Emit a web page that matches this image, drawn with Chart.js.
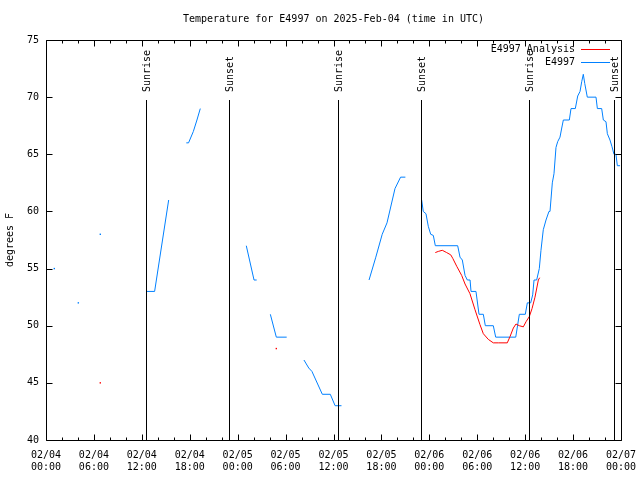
<!DOCTYPE html>
<html>
<head>
<meta charset="utf-8">
<script src="https://cdn.jsdelivr.net/npm/chart.js@4/dist/chart.umd.min.js"></script>
<style>
  body { margin: 0; background: #fff; }
  canvas { display: block; }
</style>
</head>
<body>
<canvas id="chart" width="640" height="480"></canvas>
<script>
// hours since 02/04 00:00 UTC, null breaks the line (gaps in the record)
const obsHours = [1.04, null, 4.05, null, 6.8, null,
  12.56, 13.6, 15.36, null,
  17.57, 17.85, 18.45, 18.9, 19.32, null,
  25.08, 26.05, 26.38, null,
  28.09, 28.84, 30.14, null,
  32.3, 32.9, 33.3, 34.6, 35.6, 36.2, 37.0, null,
  40.45, 41.3, 42.1, 42.7, 43.7, 44.4, 45.0, null,
  47.04, 47.24, 47.58, 47.87, 48.17, 48.5, 48.75, 51.55, 51.84, 52.13, 52.47, 52.76, 53.1, 53.22, 53.84,
  54.22, 54.76, 55.01, 56.01, 56.31, 58.82, 59.27, 60.02, 60.27, 60.69, 60.94, 61.11, 61.44, 61.77,
  61.98, 62.27, 62.61, 62.98, 63.11, 63.4, 63.61, 63.86, 64.07, 64.36, 64.58, 64.78, 65.53, 65.74,
  66.28, 66.58, 66.87, 67.08, 67.28, 67.46, 67.78, 68.87, 69.04, 69.58, 69.79, 70.12, 70.29, 70.62,
  70.87, 71.12, 71.37, 71.54, 71.88];
const obsTemps = [55, null, 52, null, 58, null,
  53, 53, 61, null,
  66, 66, 67, 68, 69, null,
  57, 54, 54, null,
  51, 49, 49, null,
  47, 46.3, 46, 44, 44, 43, 43, null,
  54, 56, 58, 59, 62, 63, 63, null,
  61, 60, 59.8, 58.7, 58, 57.9, 57, 57, 56, 55.75, 54.4, 54, 54, 53, 53,
  51, 51, 50, 50, 49, 49, 51, 51, 52, 52, 52.7, 54, 54, 55,
  56.6, 58.4, 59.25, 60, 60, 62.5, 63.3, 65.6, 66.1, 66.5, 67.3, 68, 68, 69,
  69, 70.1, 70.5, 71.35, 72, 71.2, 70, 70, 69, 69, 68, 67.85, 66.8, 66.25,
  65.67, 65, 65, 64, 64];

const analysisHours = [6.8, null, 28.84, null,
  48.75, 49.12, 49.62, 50.17, 50.68, 50.93, 51.43, 52.05, 52.47, 53.09, 53.72, 54.34, 54.76,
  55.39, 56.01, 56.64, 57.76, 58.1, 58.52, 58.85, 59.27, 59.77, 60.11, 60.52, 60.86, 61.23,
  61.65, 61.82];
const analysisTemps = [45, null, 48, null,
  56.4, 56.5, 56.6, 56.4, 56.2, 55.9, 55.2, 54.4, 53.65, 52.8, 51.4, 50.1, 49.3,
  48.8, 48.5, 48.5, 48.5, 49.04, 49.8, 50.15, 50.0, 49.9, 50.35, 50.8, 51.5, 52.5,
  54.0, 54.2];

const sunriseHours = [12.56, 36.6, 60.52];
const sunsetHours = [22.95, 46.99, 71.1];

const xTicks = [0, 6, 12, 18, 24, 30, 36, 42, 48, 54, 60, 66, 72];
const yTicks = [40, 45, 50, 55, 60, 65, 70, 75];

const FONT = "'DejaVu Sans Mono', 'Liberation Mono', monospace";
const BLUE = "#0080ff";
const RED = "#ff0000";

// build {x,y} points, a null hour keeps the x of the previous point
const toPoints = (hours, temps) => {
  let last = 0;
  return hours.map((h, i) => {
    if (h === null) return { x: last, y: null };
    last = h;
    return { x: h, y: temps[i] };
  });
};

// a lone reading has no neighbour to join, show it as a dot
const loneDot = (ctx) => {
  const d = ctx.dataset.data;
  const i = ctx.dataIndex;
  if (!d[i] || d[i].y === null) return 0;
  const prevGap = i === 0 || d[i - 1].y === null;
  const nextGap = i === d.length - 1 || d[i + 1].y === null;
  return prevGap && nextGap ? 1 : 0;
};

const label = (v) => {
  const day = 4 + Math.floor(v / 24);
  const hh = v % 24;
  return ["02/0" + day, (hh < 10 ? "0" : "") + hh + ":00"];
};

// frame, inward ticks, sun lines, legend and titles (gnuplot look)
const gnuplotDeco = {
  id: "gnuplotDeco",
  afterDraw(chart) {
    const c = chart.ctx;
    const xs = chart.scales.x;
    const ys = chart.scales.y;
    const a = chart.chartArea;
    const L = Math.round(a.left) + 0.5, R = Math.round(a.right) + 0.5;
    const T = Math.round(a.top) + 0.5, B = Math.round(a.bottom) + 0.5;
    c.save();
    c.strokeStyle = "#000";
    c.lineWidth = 1;
    c.beginPath();
    c.rect(L, T, R - L, B - T);
    for (let h = 0; h <= 72; h += 2) {
      const px = Math.round(xs.getPixelForValue(h)) + 0.5;
      const len = h % 6 === 0 ? 6 : 3;
      c.moveTo(px, B); c.lineTo(px, B - len);
      c.moveTo(px, T); c.lineTo(px, T + len);
    }
    yTicks.forEach((t) => {
      const py = Math.round(ys.getPixelForValue(t)) + 0.5;
      c.moveTo(L, py); c.lineTo(L + 6, py);
      c.moveTo(R, py); c.lineTo(R - 6, py);
    });
    c.stroke();

    // sunrise / sunset markers up to 85% of the graph height
    c.font = "10px " + FONT;
    c.fillStyle = "#000";
    const lineTop = a.bottom - 0.85 * (a.bottom - a.top);
    const mark = (h, text) => {
      const px = Math.round(xs.getPixelForValue(h)) + 0.5;
      c.beginPath();
      c.moveTo(px, B); c.lineTo(px, Math.round(lineTop));
      c.stroke();
      c.save();
      c.translate(px + 1, Math.round(lineTop) - 8);
      c.rotate(-Math.PI / 2);
      c.textAlign = "left";
      c.textBaseline = "middle";
      c.fillText(text, 0, 0);
      c.restore();
    };
    sunriseHours.forEach((h) => mark(h, "Sunrise"));
    sunsetHours.forEach((h) => mark(h, "Sunset"));

    // legend
    const keys = [["E4997 Analysis", RED, 49.5], ["E4997", BLUE, 62.5]];
    c.textAlign = "right";
    c.textBaseline = "middle";
    keys.forEach(([txt, col, y]) => {
      c.fillStyle = "#000";
      c.fillText(txt, 575, y);
      c.strokeStyle = col;
      c.beginPath();
      c.moveTo(581, Math.floor(y) + 0.5); c.lineTo(610, Math.floor(y) + 0.5);
      c.stroke();
    });

    // title and y label
    c.fillStyle = "#000";
    c.textAlign = "center";
    c.fillText("Temperature for E4997 on 2025-Feb-04 (time in UTC)", (a.left + a.right) / 2, 19);
    c.save();
    c.translate(10, (a.top + a.bottom) / 2);
    c.rotate(-Math.PI / 2);
    c.fillText("degrees F", 0, 0);
    c.restore();
    c.restore();
  },
};

const ctx = document.querySelector("#chart").getContext("2d");

new Chart(ctx, {
  type: "line",
  data: {
    datasets: [
      {
        label: "E4997 Analysis",
        data: toPoints(analysisHours, analysisTemps),
        borderColor: RED,
        backgroundColor: RED,
        borderWidth: 1,
        pointRadius: loneDot,
        pointStyle: "rect",
        pointBorderWidth: 0,
        spanGaps: false,
        tension: 0,
      },
      {
        label: "E4997",
        data: toPoints(obsHours, obsTemps),
        borderColor: BLUE,
        backgroundColor: BLUE,
        borderWidth: 1,
        pointRadius: loneDot,
        pointStyle: "rect",
        pointBorderWidth: 0,
        spanGaps: false,
        tension: 0,
      },
    ],
  },
  options: {
    responsive: false,
    animation: false,
    layout: { padding: { top: 40, right: 19, left: 0, bottom: 0 } },
    plugins: { legend: { display: false }, tooltip: { enabled: false } },
    scales: {
      x: {
        type: "linear",
        min: 0,
        max: 72,
        afterFit: (s) => { s.height = 40; s.paddingLeft = 0; s.paddingRight = 0; },
        afterBuildTicks: (s) => { s.ticks = xTicks.map((v) => ({ value: v })); },
        grid: { display: false, drawTicks: false },
        border: { display: false },
        ticks: {
          autoSkip: false,
          maxRotation: 0,
          padding: 9,
          color: "#000",
          font: { family: FONT, size: 10, lineHeight: 1.2 },
          callback: label,
        },
      },
      y: {
        min: 40,
        max: 75,
        afterFit: (s) => { s.width = 46; s.paddingTop = 0; s.paddingBottom = 0; },
        afterBuildTicks: (s) => { s.ticks = yTicks.map((v) => ({ value: v })); },
        grid: { display: false, drawTicks: false },
        border: { display: false },
        ticks: {
          padding: 7,
          color: "#000",
          font: { family: FONT, size: 10 },
        },
      },
    },
  },
  plugins: [gnuplotDeco],
});
</script>
</body>
</html>
